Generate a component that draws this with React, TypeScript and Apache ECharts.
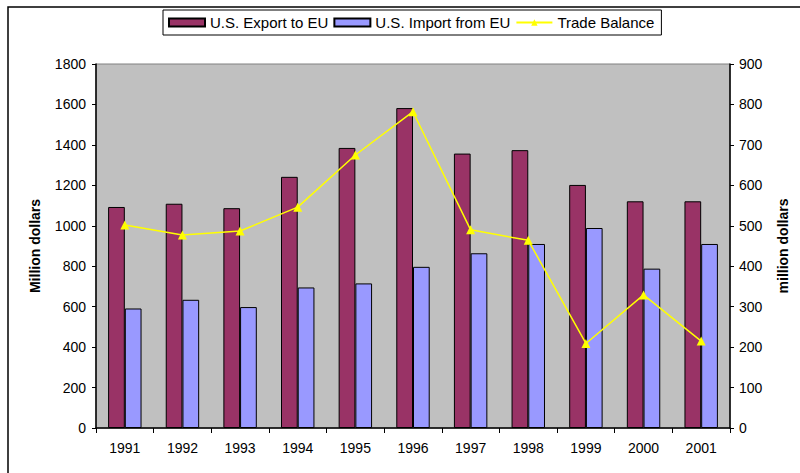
import React, { useEffect, useRef } from "react";
import * as echarts from "echarts";

const years = ["1991", "1992", "1993", "1994", "1995", "1996", "1997", "1998", "1999", "2000", "2001"];
const exportToEU = [1093, 1109, 1087, 1242, 1385, 1582, 1357, 1374, 1202, 1121, 1121];
const importFromEU = [591, 634, 598, 695, 715, 797, 864, 910, 989, 788, 910];
const tradeBalance = [502, 477, 487, 546, 675, 782, 490, 464, 209, 329, 215];

const FONT = "'Liberation Sans', Arial, sans-serif";

export default function App() {
  const ref = useRef<HTMLDivElement>(null);
  useEffect(() => {
    if (!ref.current) return;
    const chart = echarts.init(ref.current, null, { renderer: "svg" });
    chart.setOption({
      animation: false,
      backgroundColor: "#ffffff",
      textStyle: { fontFamily: FONT, color: "#000" },
      graphic: [
        {
          type: "rect",
          shape: { x: 8, y: 7, width: 900, height: 600 },
          style: { fill: "none", stroke: "#000", lineWidth: 1.5 },
          silent: true,
          z: -10,
        },
      ],
      legend: {
        left: 163,
        top: 10,
        padding: [5, 7, 5, 5],
        borderColor: "#000",
        borderWidth: 1,
        itemWidth: 36,
        itemHeight: 8,
        itemGap: 5,
        textStyle: { fontFamily: FONT, fontSize: 15, color: "#000" },
        data: [
          { name: "U.S. Export to EU", icon: "rect" },
          { name: "U.S. Import from EU", icon: "rect" },
          { name: "Trade Balance" },
        ],
      },
      grid: {
        left: 96,
        right: 70,
        top: 64,
        bottom: 45,
        show: true,
        backgroundColor: "#C0C0C0",
        borderColor: "#808080",
        borderWidth: 1,
      },
      xAxis: {
        type: "category",
        data: years,
        boundaryGap: true,
        axisLine: { lineStyle: { color: "#000", width: 1.5 } },
        axisTick: { show: true, alignWithLabel: false, length: 5, lineStyle: { color: "#000" } },
        axisLabel: { fontFamily: FONT, fontSize: 14, color: "#000", margin: 13 },
      },
      yAxis: [
        {
          type: "value",
          min: 0,
          max: 1800,
          interval: 200,
          name: "Million dollars",
          nameLocation: "middle",
          nameGap: 54,
          nameTextStyle: { fontFamily: FONT, fontSize: 14, fontWeight: "bold", color: "#000" },
          axisLine: { show: true, lineStyle: { color: "#000", width: 1.5 } },
          axisTick: { show: true, length: 4, lineStyle: { color: "#000" } },
          axisLabel: { fontFamily: FONT, fontSize: 14, color: "#000", margin: 10, formatter: (v: number) => String(v) },
          splitLine: { show: false },
        },
        {
          type: "value",
          min: 0,
          max: 900,
          interval: 100,
          position: "right",
          name: "million dollars",
          nameLocation: "middle",
          nameGap: 46,
          nameTextStyle: { fontFamily: FONT, fontSize: 14, fontWeight: "bold", color: "#000" },
          axisLine: { show: true, lineStyle: { color: "#000", width: 1.5 } },
          axisTick: { show: true, length: 4, lineStyle: { color: "#000" } },
          axisLabel: { fontFamily: FONT, fontSize: 14, color: "#000", margin: 9, formatter: (v: number) => String(v) },
          splitLine: { show: false },
        },
      ],
      series: [
        {
          name: "U.S. Export to EU",
          type: "bar",
          data: exportToEU,
          barGap: "0%",
          barCategoryGap: "42%",
          itemStyle: { color: "#993366", borderColor: "#000", borderWidth: 1 },
        },
        {
          name: "U.S. Import from EU",
          type: "bar",
          data: importFromEU,
          barGap: "0%",
          barCategoryGap: "42%",
          itemStyle: { color: "#9999FF", borderColor: "#000", borderWidth: 1 },
        },
        {
          name: "Trade Balance",
          type: "line",
          yAxisIndex: 1,
          data: tradeBalance,
          symbol: "triangle",
          symbolSize: 9,
          lineStyle: { color: "#FFFF00", width: 1.5 },
          itemStyle: { color: "#FFFF00" },
          z: 5,
        },
      ],
    });
    return () => chart.dispose();
  }, []);
  return (
    <div
      ref={ref}
      style={{ position: "fixed", left: 0, top: 0, width: 800, height: 473 }}
    />
  );
}
